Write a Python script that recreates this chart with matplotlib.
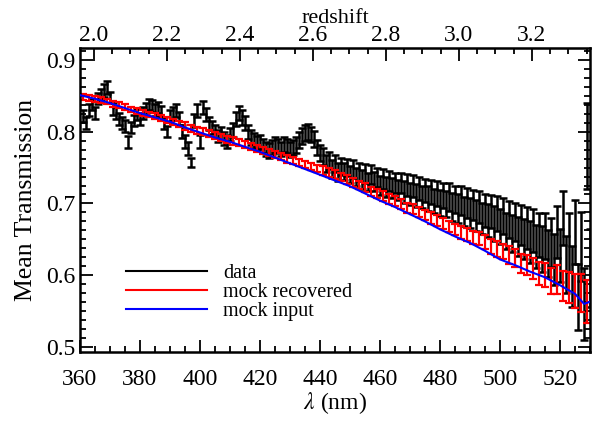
import numpy as np
import matplotlib
matplotlib.use('Agg')
import matplotlib.pyplot as plt
from matplotlib.ticker import MultipleLocator, FixedLocator

LYA = 121.567  # nm

# data (black), 1 nm bins
data_lam = np.arange(361, 531)
data_t = [
    0.822, 0.812, 0.830, 0.838, 0.826,
    0.846, 0.852, 0.858, 0.862, 0.848,
    0.832, 0.826, 0.818, 0.812, 0.808,
    0.786, 0.806, 0.816, 0.824, 0.818,
    0.826, 0.832, 0.838, 0.836, 0.830,
    0.834, 0.828, 0.812, 0.800, 0.822,
    0.826, 0.830, 0.818, 0.800, 0.786,
    0.776, 0.757, 0.816, 0.830, 0.786,
    0.834, 0.824, 0.812, 0.806, 0.800,
    0.794, 0.798, 0.790, 0.786, 0.796,
    0.802, 0.818, 0.826, 0.820, 0.812,
    0.800, 0.792, 0.788, 0.784, 0.786,
    0.780, 0.776, 0.774, 0.778, 0.782,
    0.780, 0.776, 0.782, 0.780, 0.775,
    0.778, 0.782, 0.788, 0.794, 0.798,
    0.800, 0.796, 0.790, 0.778, 0.770,
    0.766, 0.756, 0.760, 0.748, 0.756,
    0.744, 0.752, 0.745, 0.750, 0.740,
    0.748, 0.737, 0.744, 0.733, 0.742,
    0.730, 0.740, 0.731, 0.736, 0.725,
    0.734, 0.723, 0.731, 0.721, 0.729,
    0.719, 0.728, 0.716, 0.726, 0.713,
    0.724, 0.711, 0.721, 0.709, 0.718,
    0.707, 0.716, 0.703, 0.714, 0.701,
    0.711, 0.699, 0.709, 0.695, 0.706,
    0.693, 0.704, 0.689, 0.701, 0.687,
    0.698, 0.683, 0.695, 0.679, 0.690,
    0.676, 0.689, 0.672, 0.686, 0.668,
    0.682, 0.662, 0.678, 0.658, 0.674,
    0.654, 0.670, 0.650, 0.666, 0.646,
    0.662, 0.640, 0.656, 0.636, 0.654,
    0.630, 0.646, 0.622, 0.660, 0.628,
    0.680, 0.615, 0.645, 0.598, 0.660,
    0.570, 0.640, 0.560, 0.780, 0.610,
]
data_err = [
    0.008, 0.008, 0.008, 0.008, 0.008,
    0.008, 0.008, 0.009, 0.009, 0.008,
    0.008, 0.008, 0.008, 0.008, 0.008,
    0.008, 0.008, 0.008, 0.008, 0.008,
    0.008, 0.008, 0.008, 0.008, 0.008,
    0.008, 0.008, 0.008, 0.008, 0.008,
    0.009, 0.009, 0.009, 0.009, 0.009,
    0.009, 0.006, 0.009, 0.009, 0.009,
    0.009, 0.009, 0.009, 0.009, 0.009,
    0.009, 0.009, 0.009, 0.009, 0.009,
    0.010, 0.010, 0.010, 0.010, 0.010,
    0.010, 0.010, 0.010, 0.010, 0.010,
    0.010, 0.010, 0.010, 0.010, 0.010,
    0.010, 0.010, 0.010, 0.010, 0.010,
    0.011, 0.011, 0.011, 0.011, 0.011,
    0.011, 0.011, 0.011, 0.011, 0.011,
    0.012, 0.012, 0.012, 0.012, 0.012,
    0.012, 0.012, 0.012, 0.012, 0.012,
    0.012, 0.012, 0.013, 0.013, 0.013,
    0.013, 0.013, 0.013, 0.013, 0.013,
    0.014, 0.014, 0.014, 0.014, 0.014,
    0.014, 0.014, 0.015, 0.015, 0.015,
    0.015, 0.016, 0.016, 0.016, 0.016,
    0.017, 0.017, 0.017, 0.017, 0.018,
    0.018, 0.018, 0.019, 0.019, 0.019,
    0.020, 0.020, 0.020, 0.021, 0.021,
    0.021, 0.022, 0.022, 0.022, 0.023,
    0.023, 0.023, 0.024, 0.024, 0.024,
    0.025, 0.025, 0.026, 0.026, 0.027,
    0.027, 0.028, 0.028, 0.029, 0.029,
    0.030, 0.030, 0.031, 0.032, 0.032,
    0.033, 0.034, 0.035, 0.036, 0.037,
    0.038, 0.040, 0.041, 0.043, 0.045,
    0.046, 0.048, 0.050, 0.060, 0.055,
]

# mock recovered (red), 2 nm bins
mock_lam = np.arange(361, 531, 2)
mock_t = [
    0.848, 0.847, 0.846, 0.844, 0.842, 0.839, 0.837, 0.834, 0.831, 0.829,
    0.826, 0.824, 0.822, 0.819, 0.816, 0.814, 0.811, 0.808, 0.805, 0.802,
    0.800, 0.797, 0.795, 0.792, 0.789, 0.787, 0.785, 0.782, 0.779, 0.777,
    0.774, 0.771, 0.768, 0.765, 0.762, 0.760, 0.757, 0.754, 0.752, 0.749,
    0.746, 0.743, 0.740, 0.737, 0.733, 0.729, 0.726, 0.722, 0.717, 0.714,
    0.710, 0.706, 0.703, 0.699, 0.694, 0.692, 0.688, 0.684, 0.680, 0.676,
    0.672, 0.668, 0.664, 0.660, 0.657, 0.653, 0.651, 0.646, 0.640, 0.636,
    0.633, 0.628, 0.624, 0.616, 0.614, 0.609, 0.603, 0.600, 0.592, 0.594,
    0.585, 0.583, 0.578, 0.575, 0.563,
]
mock_err = [
    0.004, 0.004, 0.004, 0.004, 0.004, 0.004, 0.004, 0.004, 0.004, 0.004,
    0.004, 0.004, 0.004, 0.004, 0.004, 0.004, 0.004, 0.005, 0.005, 0.005,
    0.005, 0.005, 0.005, 0.005, 0.005, 0.005, 0.005, 0.005, 0.005, 0.005,
    0.005, 0.005, 0.005, 0.005, 0.005, 0.005, 0.005, 0.005, 0.005, 0.005,
    0.006, 0.006, 0.006, 0.006, 0.006, 0.006, 0.006, 0.006, 0.006, 0.006,
    0.007, 0.007, 0.007, 0.007, 0.007, 0.007, 0.007, 0.007, 0.008, 0.008,
    0.008, 0.008, 0.008, 0.009, 0.009, 0.009, 0.009, 0.010, 0.010, 0.011,
    0.011, 0.012, 0.012, 0.013, 0.014, 0.015, 0.016, 0.017, 0.018, 0.020,
    0.021, 0.022, 0.024, 0.026, 0.030,
]

# mock input (blue)
input_lam = [360, 365, 370, 375, 380, 385, 390, 395, 400, 405, 410, 415,
             420, 425, 430, 435, 440, 445, 450, 455, 460, 465, 470, 475,
             480, 485, 490, 495, 500, 505, 510, 515, 520, 525, 528, 530]
input_t = [0.851, 0.846, 0.840, 0.833, 0.826, 0.820, 0.814, 0.806, 0.799,
           0.792, 0.786, 0.779, 0.772, 0.764, 0.756, 0.748, 0.740, 0.732,
           0.724, 0.714, 0.704, 0.695, 0.685, 0.675, 0.664, 0.654, 0.645,
           0.634, 0.622, 0.614, 0.605, 0.597, 0.586, 0.574, 0.560, 0.563]

z_ticks = [2.0, 2.2, 2.4, 2.6, 2.8, 3.0, 3.2]

plt.rcParams['font.family'] = ['Liberation Serif', 'DejaVu Serif']
plt.rcParams['mathtext.fontset'] = 'stix'

fig = plt.figure(figsize=(6.14, 4.23), dpi=100)
ax = fig.add_axes([0.130, 0.168, 0.831, 0.719])

ax.errorbar(data_lam, data_t, yerr=data_err, fmt='none', ecolor='black',
            elinewidth=1.8, capsize=2.8, capthick=1.8, zorder=1)
ax.errorbar(mock_lam, mock_t, yerr=mock_err, fmt='none', ecolor='red',
            elinewidth=1.6, capsize=2.6, capthick=1.6, zorder=2)
ax.plot(input_lam, input_t, color='blue', lw=1.5, zorder=3)

ax.plot([], [], color='black', lw=1.5, label='data')
ax.plot([], [], color='red', lw=1.5, label='mock recovered')
ax.plot([], [], color='blue', lw=1.5, label='mock input')

ax.set_xlim(360, 530)
ax.set_ylim(0.493, 0.917)
ax.xaxis.set_major_locator(MultipleLocator(20))
ax.xaxis.set_minor_locator(MultipleLocator(5))
ax.yaxis.set_major_locator(MultipleLocator(0.1))
ax.yaxis.set_minor_locator(MultipleLocator(0.0125))
ax.yaxis.set_major_formatter(plt.FormatStrFormatter('%.1f'))
ax.tick_params(which='both', direction='in', right=True, labelsize=17, width=1.3)
ax.tick_params(which='major', length=9)
ax.tick_params(which='minor', length=4.5)
ax.tick_params(axis='x', which='both', top=False, pad=12)
for s in ax.spines.values():
    s.set_linewidth(1.8)

ax.set_xlabel(r'$\lambda$ (nm)', fontsize=17, labelpad=0)
ax.set_ylabel('Mean Transmission', fontsize=18.5, labelpad=6)

top = ax.secondary_xaxis('top', functions=(lambda l: l / LYA - 1,
                                            lambda z: (z + 1) * LYA))
top.xaxis.set_major_locator(FixedLocator(z_ticks))
top.xaxis.set_minor_locator(MultipleLocator(0.05))
top.xaxis.set_major_formatter(plt.FormatStrFormatter('%.1f'))
top.tick_params(which='both', direction='in', labelsize=17, width=1.3, pad=1)
top.tick_params(which='major', length=9)
top.tick_params(which='minor', length=4.5)
top.set_xlabel('redshift', fontsize=16, labelpad=2)

ax.legend(loc='upper left', bbox_to_anchor=(0.075, 0.315), frameon=False,
          fontsize=14.5, handlelength=4.0, labelspacing=0.0, handletextpad=0.8,
          borderaxespad=0)

fig.savefig('out.png', dpi=100)
